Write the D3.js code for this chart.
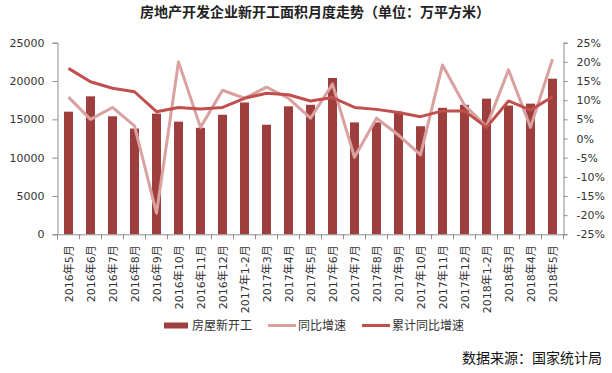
<!DOCTYPE html>
<html>
<head>
<meta charset="utf-8">
<script src="https://cdn.jsdelivr.net/npm/d3@7/dist/d3.min.js"></script>
<style>
  body { margin: 0; background: #fff; }
  svg { display: block; }
  text { font-family: "DejaVu Sans", "Noto Sans CJK SC", sans-serif; }
</style>
</head>
<body>
<svg id="chart" width="612" height="373"></svg>
<script>
const categories = ["2016年5月","2016年6月","2016年7月","2016年8月","2016年9月","2016年10月","2016年11月","2016年12月",
  "2017年1-2月","2017年3月","2017年4月","2017年5月","2017年6月","2017年7月","2017年8月","2017年9月","2017年10月","2017年11月","2017年12月",
  "2018年1-2月","2018年3月","2018年4月","2018年5月"];
const newStarts = [16000, 18000, 15400, 13800, 15750, 14700, 13900, 15600, 17200, 14300, 16700, 16900,
  20400, 14600, 14600, 16000, 14100, 16500, 16900, 17700, 16800, 17050, 20300];
const yoyGrowth = [10.8, 5.0, 8.1, 3.3, -19.5, 20.0, 2.9, 12.6, 10.5, 13.4, 10.5, 5.3,
  14.2, -4.9, 5.3, 0.9, -4.3, 19.2, 8.7, 3.1, 17.9, 2.9, 20.7];
const cumGrowth = [18.3, 14.8, 13.1, 12.2, 7.0, 8.1, 7.7, 8.1, 10.5, 11.8, 11.4, 9.8,
  10.7, 8.1, 7.6, 6.8, 5.7, 7.2, 7.2, 2.9, 9.8, 7.4, 10.9];
const leftTicks = [0, 5000, 10000, 15000, 20000, 25000];
const rightTicks = [-25, -20, -15, -10, -5, 0, 5, 10, 15, 20, 25];
const seriesNames = ["房屋新开工", "同比增速", "累计同比增速"];
const title = "房地产开发企业新开工面积月度走势（单位：万平方米）";
const source = "数据来源：国家统计局";

const colors = { bar: "#9E3F3E", yoy: "#D9A19F", cum: "#C0504D", axis: "#8C8C8C", text: "#333333" };

const svg = d3.select("#chart");
const L = 57.5, R = 563.5, T = 42.7, B = 234.3;

const x = d3.scaleBand().domain(categories).range([L, R]).padding(0);
const yL = d3.scaleLinear().domain([0, 25000]).range([B, T]);
const yR = d3.scaleLinear().domain([-25, 25]).range([B, T]);

// title
svg.append("text").attr("x", 315).attr("y", 17).attr("text-anchor", "middle")
  .attr("font-size", 14).attr("font-weight", "bold").attr("fill", "#222")
  .style("font-family", "'Noto Sans CJK SC', sans-serif").text(title);

// bars
const barW = 9;
svg.append("g").selectAll("rect").data(newStarts).join("rect")
  .attr("x", (d, i) => x(categories[i]) + (x.bandwidth() - barW) / 2)
  .attr("y", d => yL(d)).attr("width", barW).attr("height", d => B - yL(d))
  .attr("fill", colors.bar);

// left axis
const gL = svg.append("g").attr("transform", `translate(${L},0)`)
  .call(d3.axisLeft(yL).tickValues(leftTicks).tickSize(5).tickPadding(8).tickFormat(d3.format("d")));
// right axis
const gR = svg.append("g").attr("transform", `translate(${R},0)`)
  .call(d3.axisRight(yR).tickValues(rightTicks).tickSize(4).tickPadding(9).tickFormat(d => d + "%"));
// bottom axis
const gB = svg.append("g").attr("transform", `translate(0,${B})`)
  .call(d3.axisBottom(x).tickSize(0).tickFormat(""));
// band-boundary ticks
const bounds = categories.map(c => x(c)).concat([R]);
gB.selectAll("line.bt").data(bounds).join("line").attr("class", "bt")
  .attr("x1", d => d).attr("x2", d => d).attr("y1", 0).attr("y2", 5).attr("stroke", colors.axis);
// x labels
gB.selectAll("text.xl").data(categories).join("text").attr("class", "xl")
  .attr("transform", d => `translate(${x(d) + x.bandwidth() / 2 + 1},11) rotate(-90)`)
  .attr("text-anchor", "end").attr("dy", "0.35em").attr("font-size", 11).attr("fill", colors.text)
  .text(d => d);

[gL, gR, gB].forEach(g => {
  g.select(".domain").attr("stroke", colors.axis).attr("stroke-width", 1);
  g.selectAll(".tick line").attr("stroke", colors.axis);
  g.selectAll(".tick text").attr("font-size", 11).attr("fill", colors.text)
    .style("font-family", "'DejaVu Sans', sans-serif");
});

// lines
const cx = i => x(categories[i]) + x.bandwidth() / 2;
const line = d3.line().x((d, i) => cx(i)).y(d => yR(d));
svg.append("path").datum(yoyGrowth).attr("d", line).attr("fill", "none")
  .attr("stroke", colors.yoy).attr("stroke-width", 3).attr("stroke-linejoin", "round");
svg.append("path").datum(cumGrowth).attr("d", line).attr("fill", "none")
  .attr("stroke", colors.cum).attr("stroke-width", 3).attr("stroke-linejoin", "round");

// legend
const lg = svg.append("g").attr("font-size", 12).attr("fill", colors.text);
const ly = 325.5;
lg.append("rect").attr("x", 164).attr("y", ly - 3).attr("width", 24).attr("height", 6).attr("fill", colors.bar);
lg.append("text").attr("x", 192).attr("y", ly).attr("dy", "0.35em").text(seriesNames[0])
  .style("font-family", "'Noto Sans CJK SC', sans-serif");
lg.append("line").attr("x1", 268).attr("x2", 296).attr("y1", ly).attr("y2", ly).attr("stroke", colors.yoy).attr("stroke-width", 3);
lg.append("text").attr("x", 298).attr("y", ly).attr("dy", "0.35em").text(seriesNames[1])
  .style("font-family", "'Noto Sans CJK SC', sans-serif");
lg.append("line").attr("x1", 362).attr("x2", 390).attr("y1", ly).attr("y2", ly).attr("stroke", colors.cum).attr("stroke-width", 3);
lg.append("text").attr("x", 392).attr("y", ly).attr("dy", "0.35em").text(seriesNames[2])
  .style("font-family", "'Noto Sans CJK SC', sans-serif");

// source
svg.append("text").attr("x", 602).attr("y", 358).attr("dy", "0.35em").attr("text-anchor", "end")
  .attr("font-size", 14).attr("fill", "#111").style("font-family", "'Noto Sans CJK SC', sans-serif")
  .text(source);
</script>
</body>
</html>
